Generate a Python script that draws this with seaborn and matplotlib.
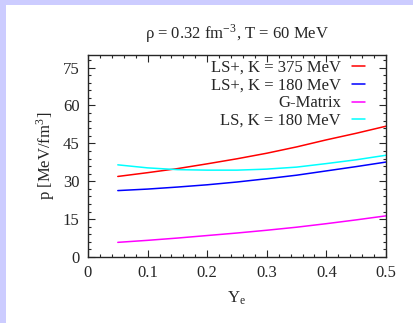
import numpy as np
import pandas as pd
import matplotlib
matplotlib.use("Agg")
import matplotlib.pyplot as plt
import seaborn as sns
from matplotlib.ticker import MultipleLocator
from matplotlib.patches import Rectangle
from matplotlib.lines import Line2D

ye = [0.05, 0.1, 0.15, 0.2, 0.25, 0.3, 0.35, 0.4, 0.45, 0.5]
ls375 = [31.9, 33.4, 35.0, 36.9, 38.9, 41.1, 43.6, 46.4, 49.0, 51.8]
ls180p = [26.3, 26.9, 27.7, 28.6, 29.7, 31.0, 32.4, 34.1, 35.8, 37.6]
gmat = [5.8, 6.6, 7.5, 8.5, 9.5, 10.6, 11.8, 13.2, 14.7, 16.3]
ls180 = [36.5, 35.3, 34.6, 34.4, 34.4, 34.8, 35.6, 37.0, 38.5, 40.3]

labels = ["LS+, K = 375 MeV", "LS+, K = 180 MeV", "G-Matrix", "LS, K = 180 MeV"]
colors = ["#ff0000", "#0000ff", "#ff00ff", "#00ffff"]

df = pd.concat([
    pd.DataFrame({"Ye": ye, "p": vals, "model": lab})
    for vals, lab in zip([ls375, ls180p, gmat, ls180], labels)
])

sns.set_style("ticks")
plt.rcParams["font.family"] = ["Liberation Serif", "DejaVu Serif"]
plt.rcParams["mathtext.fontset"] = "stix"

FS = 12
fig = plt.figure(figsize=(4.13, 3.23), dpi=100)
fig.patch.set_facecolor("white")
fig.patches.append(Rectangle((0, 1 - 5 / 323), 1, 5 / 323, transform=fig.transFigure,
                             facecolor="#ccccff", edgecolor="none", zorder=-1))
fig.patches.append(Rectangle((0, 0), 6 / 413, 1, transform=fig.transFigure,
                             facecolor="#ccccff", edgecolor="none", zorder=-1))

ax = fig.add_axes([88 / 413, 1 - 257 / 323, (386 - 88) / 413, (257 - 55) / 323])
sns.lineplot(data=df, x="Ye", y="p", hue="model", palette=dict(zip(labels, colors)),
             ax=ax, linewidth=1.1, legend=False)

ax.set_xlim(0, 0.5)
ax.set_ylim(0, 80)
ax.xaxis.set_minor_locator(MultipleLocator(0.02))
ax.yaxis.set_major_locator(MultipleLocator(15))
ax.yaxis.set_minor_locator(MultipleLocator(3))
ax.set_xticks([0, 0.1, 0.2, 0.3, 0.4, 0.5])
ax.set_xticklabels(["0", "0.1", "0.2", "0.3", "0.4", "0.5"])
ax.tick_params(which="both", direction="in", top=True, right=True, labelsize=FS, width=0.8)
ax.tick_params(which="major", length=5, pad=6)
ax.tick_params(which="minor", length=2.5)
for s in ax.spines.values():
    s.set_linewidth(1.0)

ax.set_xlabel(r"Y$_\mathregular{e}$", fontsize=FS, labelpad=6)
ax.set_ylabel(r"p [MeV/fm$^\mathregular{3}$]", fontsize=FS, labelpad=4)
ax.set_title(r"ρ = 0.32 fm$^\mathregular{-3}$, T = 60 MeV", fontsize=FS, pad=12)

handles = [Line2D([], [], color=c, lw=1.1) for c in colors]
ax.legend(handles, labels, loc="upper right", frameon=False, markerfirst=False,
          fontsize=FS, handlelength=0.8, handletextpad=0.65, labelspacing=0.1,
          borderpad=0, borderaxespad=0, bbox_to_anchor=(0.93, 0.975))

fig.savefig("out.png", dpi=100, facecolor=fig.get_facecolor())
